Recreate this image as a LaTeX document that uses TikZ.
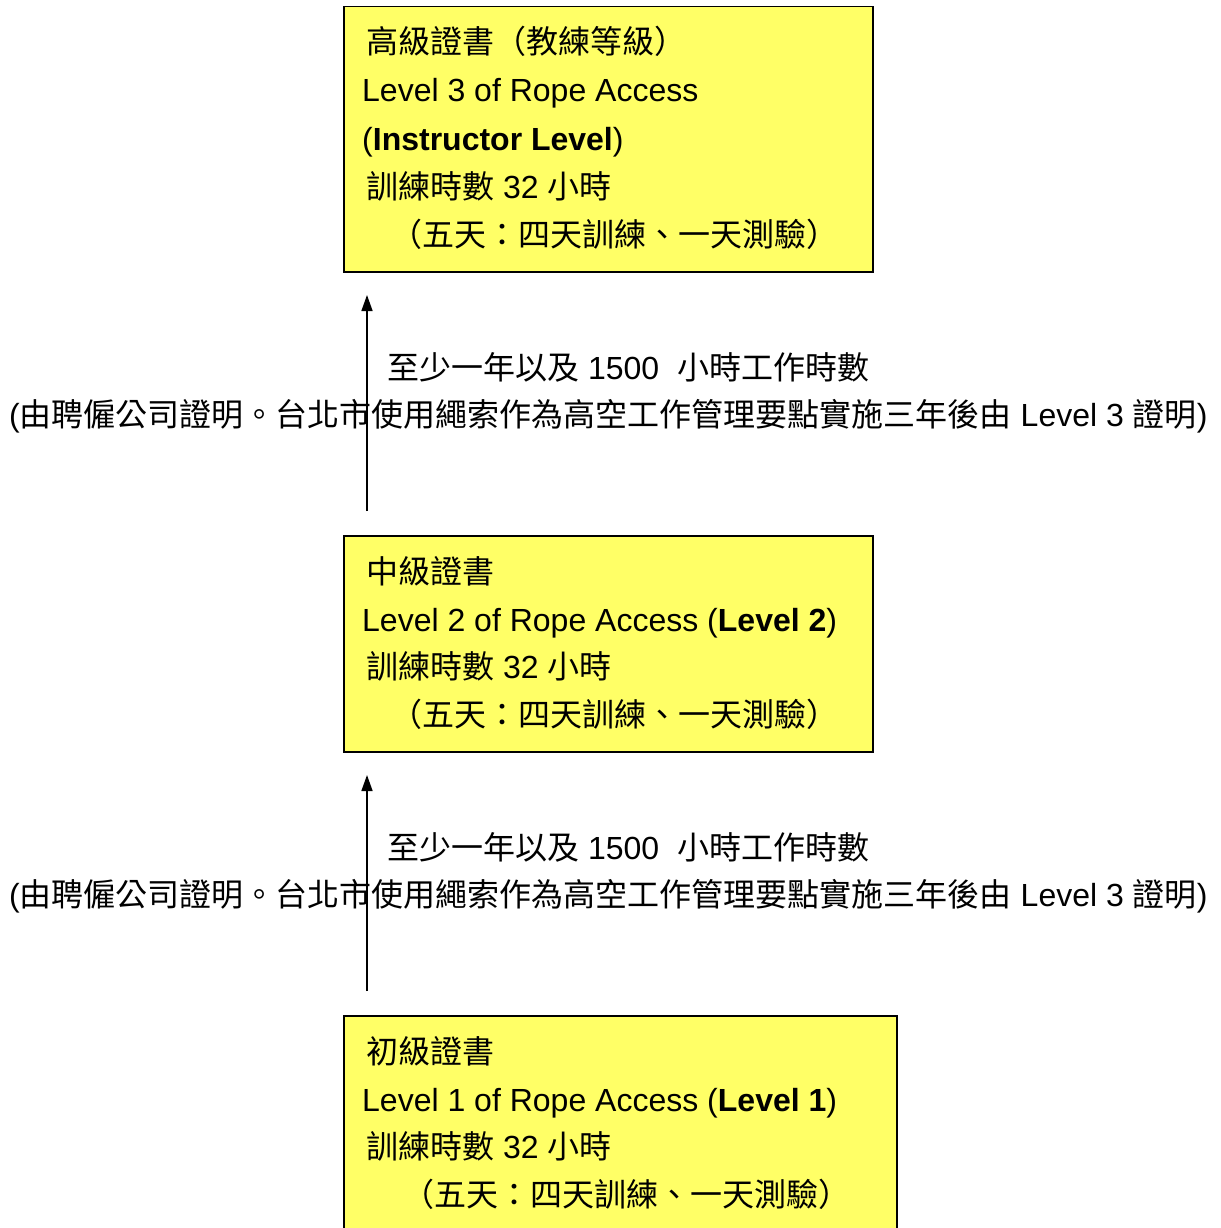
\documentclass[tikz,border=0pt]{standalone}
\usepackage{fontspec}
\setmainfont{Liberation Sans}
\newfontfamily\cjk{Noto Sans CJK TC}
\usetikzlibrary{arrows.meta}
\definecolor{boxyellow}{RGB}{255,255,102}
\tikzset{
  box/.style={draw=black, line width=1.5pt, fill=boxyellow, anchor=north west, inner sep=0pt},
  txt/.style={anchor=base west, inner sep=0pt, font=\fontsize{32}{38}\selectfont},
  uparrow/.style={-{Triangle[length=16pt,width=11pt]}, line width=1.5pt},
}
\begin{document}
\begin{tikzpicture}[x=1pt,y=-1pt]
\clip (0,0) rectangle (1220,1228);
\fill[white] (0,0) rectangle (1220,1228);
% boxes
\node[box, minimum width=529pt, minimum height=265pt] (b1) at (343,6) {};
\node[box, minimum width=529pt, minimum height=216pt] (b2) at (343,535) {};
\node[box, minimum width=553pt, minimum height=240pt] (b3) at (343,1015) {};
% box 1 text
\node[txt] (t11) at (366,54) {\cjk 高級證書（教練等級）};
\node[txt] (t12) at (362,102) {Level 3 of Rope Access};
\node[txt] (t13) at (362,150) {(\textbf{Instructor Level})};
\node[txt] (t14) at (366,198) {{\cjk 訓練時數} 32 {\cjk 小時}};
\node[txt] (t15) at (390,246) {\cjk （五天：四天訓練、一天測驗）};
% box 2 text
\node[txt] (t21) at (366,583) {\cjk 中級證書};
\node[txt] (t22) at (362,631) {Level 2 of Rope Access (\textbf{Level 2})};
\node[txt] (t23) at (366,678) {{\cjk 訓練時數} 32 {\cjk 小時}};
\node[txt] (t24) at (390,726) {\cjk （五天：四天訓練、一天測驗）};
% box 3 text
\node[txt] (t31) at (366,1063) {\cjk 初級證書};
\node[txt] (t32) at (362,1111) {Level 1 of Rope Access (\textbf{Level 1})};
\node[txt] (t33) at (366,1158) {{\cjk 訓練時數} 32 {\cjk 小時}};
\node[txt] (t34) at (402,1206) {\cjk （五天：四天訓練、一天測驗）};
% arrows
\coordinate (a1s) at (367,511);
\coordinate (a1e) at (367,295);
\coordinate (a2s) at (367,991);
\coordinate (a2e) at (367,775);
\draw[uparrow] (a1s) -- (a1e);
\draw[uparrow] (a2s) -- (a2e);
% arrow labels
\node[txt] (l11) at (387,379) {{\cjk 至少一年以及} 1500\ \ {\cjk 小時工作時數}};
\node[txt] (l12) at (9,426) {({\cjk 由聘僱公司證明。台北市使用繩索作為高空工作管理要點實施三年後由} Level 3 {\cjk 證明})};
\node[txt] (l21) at (387,859) {{\cjk 至少一年以及} 1500\ \ {\cjk 小時工作時數}};
\node[txt] (l22) at (9,906) {({\cjk 由聘僱公司證明。台北市使用繩索作為高空工作管理要點實施三年後由} Level 3 {\cjk 證明})};
\end{tikzpicture}
\end{document}
